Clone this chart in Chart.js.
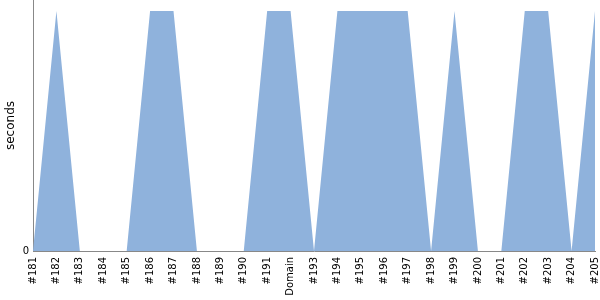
<!DOCTYPE html>
<html>
<head>
<meta charset="utf-8">
<script src="https://cdn.jsdelivr.net/npm/chart.js@4"></script>
<style>
  html, body { margin: 0; padding: 0; background: #fff; }
  #wrap { width: 600px; height: 300px; }
</style>
</head>
<body>
<div id="wrap"><canvas id="grafico" width="600" height="300"></canvas></div>
<script>
const builds = ['#181', '#182', '#183', '#184', '#185', '#186', '#187', '#188', '#189', '#190',
    '#191', 'Domain', '#193', '#194', '#195', '#196', '#197', '#198', '#199', '#200',
    '#201', '#202', '#203', '#204', '#205'];
const seconds = [0, 1, 0, 0, 0, 1, 1, 0, 0, 0,
    1, 1, 0, 1, 1, 1, 1, 0, 1, 0,
    0, 1, 1, 0, 1];
const yTicks = [0];
const yMax = 1.046;

const ctx = document.getElementById('grafico').getContext('2d');
new Chart(ctx, {
    type: 'line',
    data: {
        labels: builds,
        datasets: [{
            label: 'seconds',
            data: seconds,
            fill: 'origin',
            backgroundColor: '#8fb2dc',
            borderWidth: 0,
            pointRadius: 0,
            tension: 0
        }]
    },
    options: {
        responsive: false,
        animation: false,
        layout: { padding: { top: 0, right: 5, left: 0, bottom: 0 } },
        plugins: { legend: { display: false }, tooltip: { enabled: false } },
        scales: {
            x: {
                offset: false,
                grid: { drawOnChartArea: false, drawTicks: false, color: 'transparent' },
                border: { display: true, color: '#888', width: 1 },
                ticks: {
                    autoSkip: false,
                    minRotation: 90,
                    maxRotation: 90,
                    padding: 6,
                    color: '#000',
                    font: { family: 'DejaVu Sans', size: 10 }
                },
                afterFit: scale => {
                    scale.height = 49;
                    scale.paddingLeft = 0;
                    scale.paddingRight = 0;
                }
            },
            y: {
                min: 0,
                max: yMax,
                grid: { drawOnChartArea: false, drawTicks: false, color: 'transparent' },
                border: { display: true, color: '#888', width: 1 },
                afterBuildTicks: scale => { scale.ticks = yTicks.map(v => ({ value: v })); },
                ticks: {
                    padding: 4,
                    color: '#000',
                    font: { family: 'DejaVu Sans', size: 10 }
                },
                title: {
                    display: true,
                    text: 'seconds',
                    color: '#000',
                    padding: { top: 4, bottom: 0 },
                    font: { family: 'DejaVu Sans', size: 12 }
                },
                afterFit: scale => {
                    scale.width = 33;
                    scale.paddingTop = 0;
                    scale.paddingBottom = 0;
                }
            }
        }
    }
});
</script>
</body>
</html>
